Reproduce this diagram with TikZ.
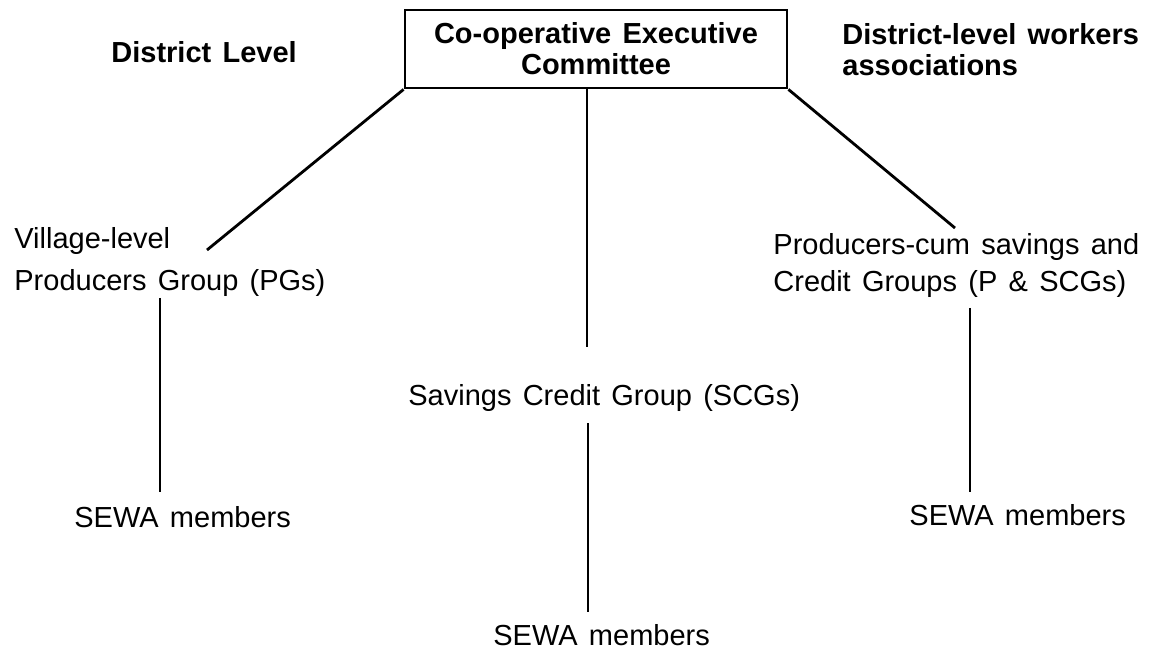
\documentclass[tikz,border=0pt]{standalone}
\usepackage{fontspec}
\setmainfont{Liberation Sans}[WordSpace=1.4]
\usetikzlibrary{positioning}

\begin{document}
\begin{tikzpicture}[x=1pt, y=-1pt, line width=2.8pt,
		every node/.style={font=\fontsize{29}{26}\selectfont, inner sep=0pt},
		head/.style={font=\fontsize{29}{31}\selectfont\bfseries}]
		\useasboundingbox (0,0) rectangle (1149,652);
		
		% committee and the two headings
		\node [draw, head, align=center, minimum width=382pt, minimum height=78pt] (cec) at (596,49) {Co-operative Executive\\Committee};
		\node [head, anchor=base west] (district) at (110,63) {District Level};
		\node [head, anchor=north west, align=left] (assoc) at (841,22) {District-level workers\\associations};
		
		% groups
		\node [anchor=north west, align=left] (pg) at (13,226) {Village-level\\[14pt]Producers Group (PGs)};
		\node [anchor=base west] (scg) at (407,405) {Savings Credit Group (SCGs)};
		\node [anchor=north west, align=left] (pscg) at (772,232) {Producers-cum savings and\\[9pt]Credit Groups (P \& SCGs)};
		
		% members
		\node [anchor=base west] (memleft) at (73,527) {SEWA members};
		\node [anchor=base west] (memmid) at (492,645) {SEWA members};
		\node [anchor=base west] (memright) at (908,525) {SEWA members};
		
		% free ends of the connectors
		\coordinate (pgtip) at (207,250);
		\coordinate (scgtip) at (587,347);
		\coordinate (pscgtip) at (955,228);
		\coordinate (pgfoot) at (160,298);
		\coordinate (leftend) at (160,492);
		\coordinate (scgfoot) at (588,423);
		\coordinate (midend) at (588,612);
		\coordinate (pscgfoot) at (970,308);
		\coordinate (rightend) at (970,492);
		
		\draw (cec.south west) -- (pgtip);
		\draw (cec.south -| scgtip) -- (scgtip);
		\draw (cec.south east) -- (pscgtip);
		
		\draw (pgfoot) -- (leftend);
		\draw (scgfoot) -- (midend);
		\draw (pscgfoot) -- (rightend);
\end{tikzpicture}
\end{document}
